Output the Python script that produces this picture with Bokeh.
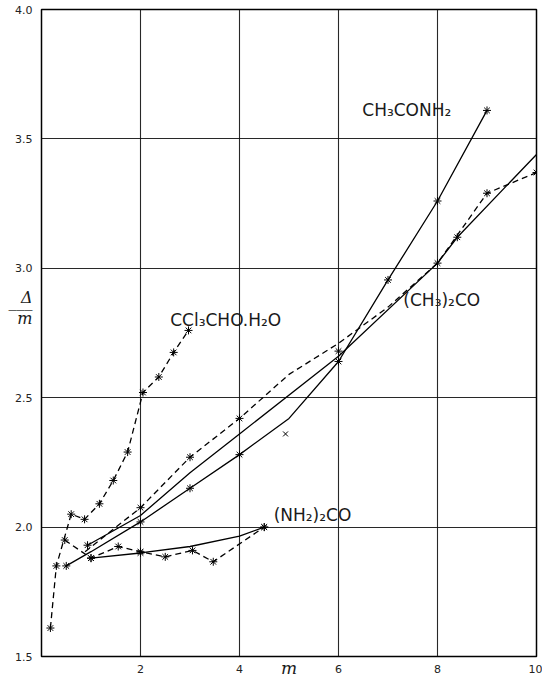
from bokeh.plotting import figure
from bokeh.models import FixedTicker, Range1d, LinearAxis, Label, CustomJSTickFormatter
from bokeh.embed import file_html
from bokeh.resources import INLINE

# ---- data ----
ccl3_x = [0.18, 0.30, 0.60, 0.87, 1.17, 1.45, 1.74, 2.05, 2.37, 2.67, 2.97]
ccl3_y = [1.61, 1.85, 2.05, 2.03, 2.09, 2.18, 2.29, 2.52, 2.58, 2.675, 2.76]

urea_dash_x = [0.47, 1.00, 1.55, 2.00, 2.50, 3.05, 3.47, 4.50]
urea_dash_y = [1.95, 1.88, 1.925, 1.905, 1.885, 1.91, 1.866, 2.00]

urea_solid_x = [1.0, 2.0, 3.0, 4.0, 4.5]
urea_solid_y = [1.88, 1.90, 1.925, 1.965, 2.00]
urea_solid_mx = [1.0, 2.0, 4.5]
urea_solid_my = [1.88, 1.90, 2.00]

acetone_dash_x = [0.88, 2.0, 3.0, 4.0, 5.0, 6.0, 7.0, 8.0, 9.0, 10.0]
acetone_dash_y = [1.905, 2.075, 2.27, 2.42, 2.59, 2.71, 2.85, 3.02, 3.29, 3.37]
acetone_dash_mx = [2.0, 3.0, 4.0, 6.0, 8.0, 9.0, 10.0]
acetone_dash_my = [2.075, 2.27, 2.42, 2.68, 3.02, 3.29, 3.37]

acetone_solid_x = [0.93, 2.0, 3.0, 4.0, 6.0, 8.0, 8.4, 10.0]
acetone_solid_y = [1.93, 2.045, 2.21, 2.36, 2.66, 3.02, 3.12, 3.44]
acetone_solid_mx = [0.93, 8.4]
acetone_solid_my = [1.93, 3.12]

acetamide_x = [0.5, 1.0, 2.0, 3.0, 4.0, 5.0, 6.0, 7.0, 8.0, 9.0]
acetamide_y = [1.85, 1.905, 2.02, 2.15, 2.28, 2.42, 2.64, 2.955, 3.26, 3.61]
acetamide_mx = [0.5, 2.0, 3.0, 4.0, 6.0, 7.0, 8.0, 9.0]
acetamide_my = [1.85, 2.02, 2.15, 2.28, 2.64, 2.955, 3.26, 3.61]

stray_x = [4.93]
stray_y = [2.36]

x_ticks = [2, 4, 6, 8, 10]
y_ticks = [1.5, 2.0, 2.5, 3.0, 3.5, 4.0]

p = figure(width=542, height=680, output_backend="svg", toolbar_location=None,
           x_range=Range1d(0, 10), y_range=Range1d(1.5, 4.0),
           min_border_left=41, min_border_right=6, min_border_top=9, min_border_bottom=23)
p.background_fill_color = "white"
p.border_fill_color = "white"
p.outline_line_color = "black"
p.outline_line_width = 1.5

for ax in (p.xaxis[0], p.yaxis[0]):
    ax.axis_line_color = None
    ax.major_tick_in = 0
    ax.major_tick_out = 0
    ax.minor_tick_line_color = None
    ax.major_label_text_font = "DejaVu Sans"
    ax.major_label_text_font_size = "11px"
    ax.major_label_text_color = "#222222"

p.xaxis[0].ticker = FixedTicker(ticks=x_ticks)
p.yaxis[0].ticker = FixedTicker(ticks=y_ticks)
p.xaxis[0].major_label_standoff = 8
p.yaxis[0].major_label_standoff = 9
p.yaxis[0].formatter = CustomJSTickFormatter(code="return tick.toFixed(1);")

# x-axis label "m", pulled up onto the tick-label line
p.xaxis[0].axis_label = "m"
p.xaxis[0].axis_label_text_font = "DejaVu Serif"
p.xaxis[0].axis_label_text_font_style = "italic"
p.xaxis[0].axis_label_text_font_size = "17px"
p.xaxis[0].axis_label_text_color = "#1a1a1a"
p.xaxis[0].axis_label_standoff = -18

# y-axis label as stacked fraction Δ / m (tick labels of a second left axis)
frac_pos = {2.888: "Δ", 2.872: "___", 2.805: "m"}
ax2 = LinearAxis(ticker=FixedTicker(ticks=list(frac_pos.keys())),
                 major_label_overrides=frac_pos)
ax2.axis_line_color = None
ax2.major_tick_in = 0
ax2.major_tick_out = 0
ax2.minor_tick_line_color = None
ax2.major_label_text_font = "DejaVu Serif"
ax2.major_label_text_font_style = "italic"
ax2.major_label_text_font_size = "16px"
ax2.major_label_text_color = "#1a1a1a"
ax2.major_label_standoff = -20
p.add_layout(ax2, "left")

p.xgrid.ticker = FixedTicker(ticks=x_ticks)
p.ygrid.ticker = FixedTicker(ticks=y_ticks)
for g in (p.xgrid[0], p.ygrid[0]):
    g.grid_line_color = "#111111"
    g.grid_line_width = 1.1
    g.grid_line_alpha = 0.9

DASH = "6 4"
LW = 1.3

p.line(ccl3_x, ccl3_y, line_color="black", line_width=LW, line_dash=DASH)
p.scatter(ccl3_x, ccl3_y, marker="asterisk", size=8, line_color="black", line_width=1)

p.line(urea_dash_x, urea_dash_y, line_color="black", line_width=LW, line_dash=DASH)
p.scatter(urea_dash_x, urea_dash_y, marker="asterisk", size=8, line_color="black", line_width=1)
p.line(urea_solid_x, urea_solid_y, line_color="black", line_width=LW)
p.scatter(urea_solid_mx, urea_solid_my, marker="asterisk", size=8, line_color="black", line_width=1)

p.line(acetone_dash_x, acetone_dash_y, line_color="black", line_width=LW, line_dash=DASH)
p.scatter(acetone_dash_mx, acetone_dash_my, marker="asterisk", size=8, line_color="black", line_width=1)
p.line(acetone_solid_x, acetone_solid_y, line_color="black", line_width=LW)
p.scatter(acetone_solid_mx, acetone_solid_my, marker="asterisk", size=8, line_color="black", line_width=1)

p.line(acetamide_x, acetamide_y, line_color="black", line_width=LW)
p.scatter(acetamide_mx, acetamide_my, marker="asterisk", size=8, line_color="black", line_width=1)

p.scatter(stray_x, stray_y, marker="x", size=7, line_color="black", line_width=1)

def lab(x, y, t, size="17px"):
    p.add_layout(Label(x=x, y=y, text=t, text_font="DejaVu Sans", text_font_size=size,
                       text_align="left", text_baseline="middle", text_color="#1a1a1a"))

lab(6.48, 3.61, "CH₃CONH₂")
lab(7.31, 2.877, "(CH₃)₂CO")
lab(2.60, 2.80, "CCl₃CHO.H₂O")
lab(4.69, 2.048, "(NH₂)₂CO")

open("out.html", "w").write(file_html(p, INLINE))
